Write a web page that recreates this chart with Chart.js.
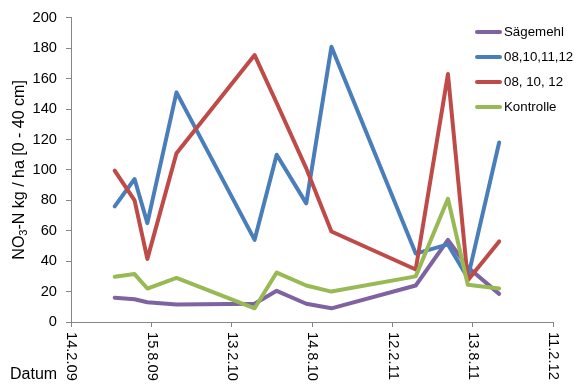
<!DOCTYPE html>
<html><head><meta charset="utf-8">
<script src="https://cdn.jsdelivr.net/npm/chart.js@4.4.1/dist/chart.umd.min.js"></script>
<style>html,body{margin:0;padding:0;background:#fff;overflow:hidden}#wrap{position:relative;width:579px;height:390px}</style>
</head><body><div id="wrap"><canvas id="c" width="579" height="390"></canvas></div>
<script>
// ---- data ----
const tickLabels = ['14.2.09','15.8.09','13.2.10','14.8.10','12.2.11','13.8.11','11.2.12'];
const sampleDates = ['2009-05-24','2009-07-08','2009-08-06','2009-10-11','2010-04-06','2010-05-26',
                     '2010-08-01','2010-09-27','2011-04-06','2011-06-18','2011-08-02','2011-10-12'];
const seriesNames = ['Sägemehl','08,10,11,12','08, 10, 12','Kontrolle'];
const saegemehl   = [16, 15, 13, 11.5, 12, 20.5, 12, 9, 24, 54, 36, 18.5];
const s08101112   = [76, 94, 65, 151, 54, 110, 78, 181, 45, 51, 29, 118];
const s081012     = [99.5, 80, 41.5, 111, 175.5, 144, 101, 59.5, 34.5, 163, 27.5, 53];
const kontrolle   = [29.7, 31.5, 22, 29, 9, 32.5, 24, 20, 30, 81, 24.5, 22];
const yTitleMain = 'NO', yTitleSub = '3', yTitleRest = '-N kg / ha [0 - 40 cm]';
const xTitle = 'Datum';

// ---- styles ----
const seriesColors = ['#7F63A1','#4A7EBB','#BE4B48','#98B954'];
const FAM = '"Liberation Sans", Arial, sans-serif';
const axisColor = '#868686';

function parseTick(s){ const [d,m,y] = s.split('.').map(Number); return Date.UTC(2000+y, m-1, d); }
const DAY = 86400000;
const origin = parseTick(tickLabels[0]);
const tickDays = tickLabels.map(t => Math.round((parseTick(t)-origin)/DAY));
const dayOf = s => { const [y,m,d] = s.split('-').map(Number); return Math.round((Date.UTC(y,m-1,d)-origin)/DAY); };
const xs = sampleDates.map(dayOf);
const allSeries = [saegemehl, s08101112, s081012, kontrolle];

const datasets = allSeries.map((vals,i) => ({
  label: seriesNames[i],
  data: vals.map((v,j) => ({x: xs[j], y: v})),
  borderColor: seriesColors[i],
  backgroundColor: seriesColors[i],
  borderWidth: 4,
  pointRadius: 0,
  borderJoinStyle: 'round',
  borderCapStyle: 'round',
  tension: 0,
  order: allSeries.length - i
}));

const decor = {
  id: 'decor',
  afterDraw(chart){
    const ctx = chart.ctx;
    const xs_ = chart.scales.x, ca = chart.chartArea;
    ctx.save();
    ctx.fillStyle = '#000';
    // x tick labels rotated clockwise
    ctx.font = '14.67px ' + FAM;
    tickDays.forEach((d,i) => {
      const px = xs_.getPixelForValue(d);
      ctx.save();
      ctx.translate(px + 0.5, ca.bottom + 10);
      ctx.rotate(Math.PI/2);
      ctx.textAlign = 'left';
      ctx.textBaseline = 'middle';
      ctx.fillText(tickLabels[i], 0, 0);
      ctx.restore();
    });
    // x title
    ctx.font = '16px ' + FAM;
    ctx.textAlign = 'left';
    ctx.textBaseline = 'alphabetic';
    ctx.fillText(xTitle, 10, 379);
    // y title with subscript
    const fMain = '16px ' + FAM, fSub = '11px ' + FAM;
    ctx.font = fMain; const w1 = ctx.measureText(yTitleMain).width, w3 = ctx.measureText(yTitleRest).width;
    ctx.font = fSub; const w2 = ctx.measureText(yTitleSub).width;
    const tw = w1 + w2 + w3;
    ctx.save();
    ctx.translate(23.5, (ca.top + ca.bottom)/2);
    ctx.rotate(-Math.PI/2);
    let x0 = -tw/2;
    ctx.font = fMain; ctx.fillText(yTitleMain, x0, 0); x0 += w1;
    ctx.font = fSub; ctx.fillText(yTitleSub, x0, 3.5); x0 += w2;
    ctx.font = fMain; ctx.fillText(yTitleRest, x0, 0);
    ctx.restore();
    // legend
    ctx.font = '13.3px ' + FAM;
    ctx.textBaseline = 'middle';
    seriesNames.forEach((n,i) => {
      const y = 32 + i*25;
      ctx.strokeStyle = seriesColors[i];
      ctx.lineWidth = 4;
      ctx.lineCap = 'round';
      ctx.beginPath(); ctx.moveTo(477, y); ctx.lineTo(500, y); ctx.stroke();
      ctx.fillText(n, 504, y + 0.5);
    });
    ctx.restore();
  }
};

new Chart(document.getElementById('c'), {
  type: 'line',
  data: { datasets },
  options: {
    responsive: false,
    animation: false,
    devicePixelRatio: 1,
    layout: { padding: { top: 12, right: 26, left: 0, bottom: 0 } },
    plugins: { legend: { display: false }, tooltip: { enabled: false } },
    scales: {
      x: {
        type: 'linear',
        min: tickDays[0], max: tickDays[tickDays.length-1],
        afterBuildTicks: s => { s.ticks = tickDays.map(v => ({ value: v })); },
        afterFit: s => { s.height = 68; },
        ticks: { display: false },
        grid: { display: true, drawOnChartArea: false, drawTicks: true, tickLength: 5, color: axisColor },
        border: { display: true, color: axisColor, width: 1 }
      },
      y: {
        min: 0, max: 200,
        afterFit: s => { s.width = 71; },
        ticks: { stepSize: 20, color: '#000', padding: 9, font: { family: FAM, size: 14.67 } },
        grid: { display: true, drawOnChartArea: false, drawTicks: true, tickLength: 5, color: axisColor },
        border: { display: true, color: axisColor, width: 1 }
      }
    }
  },
  plugins: [decor]
});
</script>
</body></html>
